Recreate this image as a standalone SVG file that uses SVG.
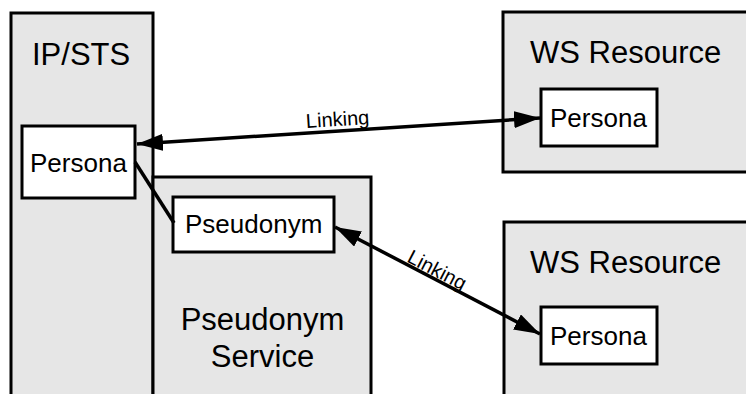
<svg xmlns="http://www.w3.org/2000/svg" width="746" height="394" viewBox="0 0 746 394">
  <style>
    .outer { fill: #e6e6e6; stroke: #000; stroke-width: 3; }
    .inner { fill: #fff; stroke: #000; stroke-width: 3; }
    .title { font-family: "Liberation Sans", Arial, sans-serif; font-size: 31px; fill: #000; }
    .label { font-family: "Liberation Sans", Arial, sans-serif; font-size: 26px; fill: #000; }
    .edge-label { font-family: "Liberation Sans", Arial, sans-serif; font-size: 20px; fill: #000; }
    .link { stroke: #000; stroke-width: 3.5; fill: none; }
  </style>
  <defs>
    <marker id="arrow" viewBox="0 0 26 17" refX="26" refY="8.5" markerWidth="26" markerHeight="17" markerUnits="userSpaceOnUse" orient="auto-start-reverse">
      <path d="M0,0 L26,8.5 L0,17 Z" fill="#000"/>
    </marker>
  </defs>

  <rect width="746" height="394" fill="#fff"/>

  <g id="ip-sts">
    <rect class="outer" x="11" y="13" width="142" height="400"/>
    <text class="title" x="32" y="65">IP/STS</text>
  </g>

  <g id="pseudonym-service">
    <rect class="outer" x="153" y="177" width="218" height="240"/>
    <text class="title" x="262.5" y="330" text-anchor="middle">Pseudonym</text>
    <text class="title" x="262.5" y="367" text-anchor="middle">Service</text>
  </g>

  <g id="ws-resource-top">
    <rect class="outer" x="503" y="12" width="260" height="160"/>
    <text class="title" x="530" y="63">WS Resource</text>
  </g>

  <g id="ws-resource-bottom">
    <rect class="outer" x="504" y="222" width="260" height="200"/>
    <text class="title" x="530" y="273">WS Resource</text>
  </g>

  <g id="persona-ip">
    <rect class="inner" x="22" y="126" width="113" height="72"/>
    <text class="label" x="30" y="172">Persona</text>
  </g>

  <g id="pseudonym">
    <rect class="inner" x="173" y="197" width="161" height="55"/>
    <text class="label" x="185" y="233">Pseudonym</text>
  </g>

  <g id="persona-ws-top">
    <rect class="inner" x="541" y="89" width="116" height="57"/>
    <text class="label" x="550" y="127">Persona</text>
  </g>

  <g id="persona-ws-bottom">
    <rect class="inner" x="541" y="307" width="116" height="57"/>
    <text class="label" x="550" y="345">Persona</text>
  </g>

  <g id="connectors">
    <line class="link" x1="137" y1="144" x2="540" y2="118" marker-start="url(#arrow)" marker-end="url(#arrow)"/>
    <text class="edge-label" x="338" y="126" text-anchor="middle" transform="rotate(-3.7 338 126)">Linking</text>

    <line class="link" x1="135" y1="162" x2="174" y2="223"/>

    <line class="link" x1="335" y1="227" x2="540" y2="334" marker-start="url(#arrow)" marker-end="url(#arrow)"/>
    <text class="edge-label" x="434" y="276" text-anchor="middle" transform="rotate(27.6 434 276)">Linking</text>
  </g>
</svg>
